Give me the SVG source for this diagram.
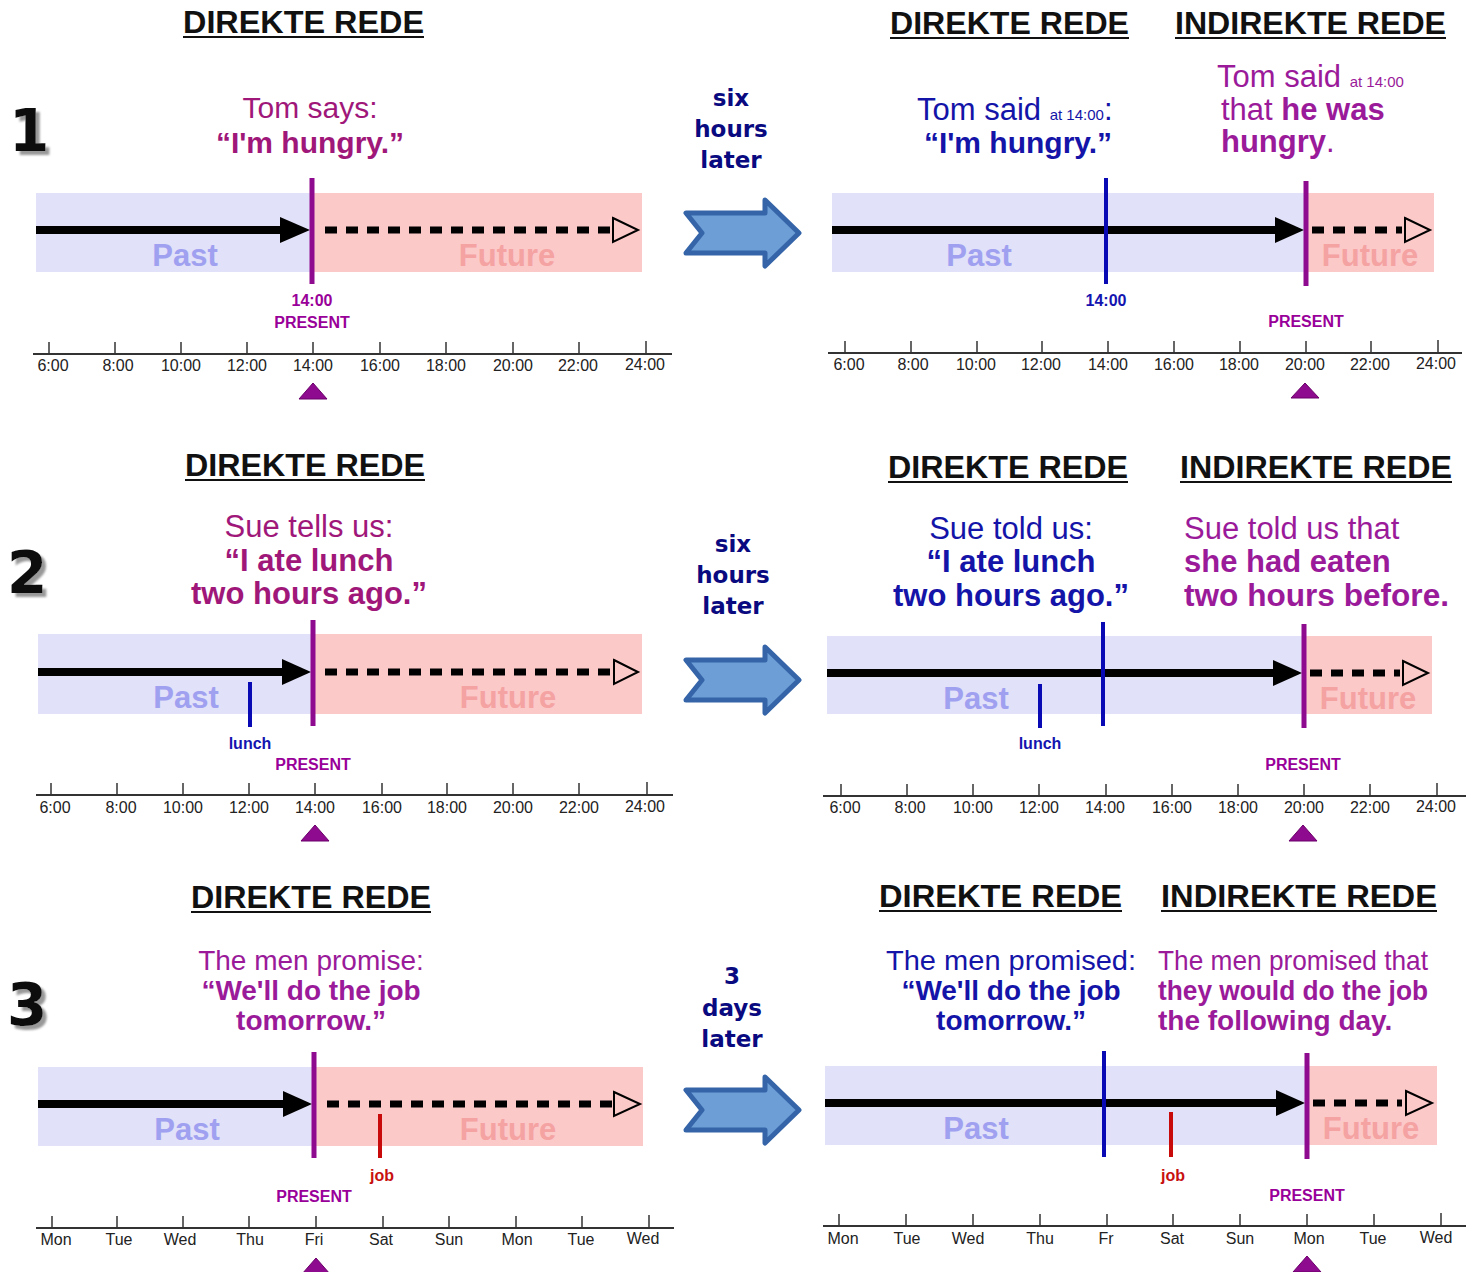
<svg xmlns="http://www.w3.org/2000/svg" width="1479" height="1272" viewBox="0 0 1479 1272">
<style>
text{font-family:"Liberation Sans",Arial,sans-serif}
.title{font-size:31px;font-weight:bold;fill:#111}
.uline{stroke:#111;stroke-width:2.2}
.num{font-family:"DejaVu Sans",sans-serif;font-size:58px;font-weight:bold;fill:#111;filter:url(#sh)}
.mid{font-family:"DejaVu Sans",sans-serif;font-size:23px;font-weight:bold;fill:#0a0a80;text-anchor:middle}
.dq{fill:#a0177a}
.bq{fill:#1414a8}
.iq{fill:#9a1a9a}
.b{font-weight:bold}
.past{fill:#e1e1f9}
.fut{fill:#fcc9c9}
.pastt{font-size:31px;font-weight:bold;fill:#a0a0f0;text-anchor:middle}
.futt{font-size:31px;font-weight:bold;fill:#f4a2a2;text-anchor:middle}
.sol{stroke:#000;stroke-width:8}
.dash{stroke:#000;stroke-width:7;stroke-dasharray:12 9}
.head{fill:#000}
.open{fill:none;stroke:#000;stroke-width:2}
.pres{stroke:#8e0a8e;stroke-width:5}
.blue{stroke:#0a0ab4;stroke-width:4}
.red{stroke:#c80a0a;stroke-width:4}
.plab{font-size:16px;font-weight:bold;fill:#990099;text-anchor:middle}
.blab{font-size:16px;font-weight:bold;fill:#1414b0;text-anchor:middle}
.rlab{font-size:16px;font-weight:bold;fill:#c81010;text-anchor:middle}
.axis{stroke:#333;stroke-width:2}
.tick{stroke:#333;stroke-width:1.5}
.tl{font-size:16px;fill:#222;text-anchor:middle}
.tri{fill:#8e0a8e;stroke:#6a006a;stroke-width:1}
.barrow{fill:#6d9ed6;stroke:#3565a8;stroke-width:5;stroke-linejoin:round}
</style>
<defs>
<filter id="sh" x="-20%" y="-20%" width="160%" height="160%">
<feDropShadow dx="4" dy="4" stdDeviation="1" flood-color="#999" flood-opacity="1"/>
</filter>
<path id="bigarrow" class="barrow" d="M0,15 L79,15 L79,2 L113,35 L79,68 L79,55 L0,55 L16,35 Z"/>
</defs>

<!-- ===== Row 1 left ===== -->
<g id="p1l">
<text class="title" x="183" y="33" textLength="241" lengthAdjust="spacingAndGlyphs">DIREKTE REDE</text>
<line class="uline" x1="183" y1="37" x2="424" y2="37"/>
<text class="num" x="9" y="151">1</text>
<text class="dq" x="310" y="118" font-size="30" text-anchor="middle">Tom says:</text>
<text class="dq b" x="310" y="153" font-size="30" text-anchor="middle">“I'm hungry.”</text>
<rect class="past" x="36" y="193" width="276" height="79"/>
<rect class="fut" x="312" y="193" width="330" height="79"/>
<text class="pastt" x="185" y="266">Past</text>
<text class="futt" x="507" y="266">Future</text>
<line class="sol" x1="36" y1="230" x2="282" y2="230"/>
<polygon class="head" points="280,217 310,230 280,243"/>
<line class="dash" x1="325" y1="230" x2="610" y2="230"/>
<polygon class="open" points="613,218 638,230 613,242"/>
<line class="pres" x1="312" y1="178" x2="312" y2="284"/>
<text class="plab" x="312" y="306">14:00</text>
<text class="plab" x="312" y="328">PRESENT</text>
<line class="axis" x1="33" y1="354" x2="672" y2="354"/>
<g class="tick">
<line x1="49" y1="342" x2="49" y2="354"/><line x1="115" y1="342" x2="115" y2="354"/><line x1="181" y1="342" x2="181" y2="354"/><line x1="247" y1="342" x2="247" y2="354"/><line x1="313" y1="342" x2="313" y2="354"/><line x1="380" y1="342" x2="380" y2="354"/><line x1="446" y1="342" x2="446" y2="354"/><line x1="513" y1="342" x2="513" y2="354"/><line x1="579" y1="342" x2="579" y2="354"/><line x1="646" y1="341" x2="646" y2="354"/>
</g>
<text class="tl" x="53" y="371">6:00</text><text class="tl" x="118" y="371">8:00</text><text class="tl" x="181" y="371">10:00</text><text class="tl" x="247" y="371">12:00</text><text class="tl" x="313" y="371">14:00</text><text class="tl" x="380" y="371">16:00</text><text class="tl" x="446" y="371">18:00</text><text class="tl" x="513" y="371">20:00</text><text class="tl" x="578" y="371">22:00</text><text class="tl" x="645" y="370">24:00</text>
<polygon class="tri" points="313,383 327,399 299,399"/>
</g>

<!-- ===== Middle arrow 1 ===== -->
<g id="m1">
<text class="mid" x="731" y="106">six</text>
<text class="mid" x="731" y="137">hours</text>
<text class="mid" x="731" y="168">later</text>
<use href="#bigarrow" x="686" y="198"/>
</g>

<!-- ===== Row 1 right ===== -->
<g id="p1r">
<text class="title" x="890" y="34" textLength="239" lengthAdjust="spacingAndGlyphs">DIREKTE REDE</text>
<line class="uline" x1="890" y1="38" x2="1129" y2="38"/>
<text class="title" x="1175" y="34" textLength="271" lengthAdjust="spacingAndGlyphs">INDIREKTE REDE</text>
<line class="uline" x1="1175" y1="38" x2="1446" y2="38"/>
<text class="bq" x="917" y="120" font-size="31">Tom said <tspan font-size="15">at 14:00</tspan>:</text>
<text class="bq b" x="1018" y="153" font-size="30" text-anchor="middle">“I'm hungry.”</text>
<text class="iq" x="1217" y="87" font-size="31">Tom said <tspan font-size="15">at 14:00</tspan></text>
<text class="iq" x="1221" y="120" font-size="31">that <tspan class="b">he was</tspan></text>
<text class="iq" x="1221" y="152" font-size="31"><tspan class="b">hungry</tspan>.</text>
<rect class="past" x="832" y="193" width="474" height="79"/>
<rect class="fut" x="1306" y="193" width="128" height="79"/>
<text class="pastt" x="979" y="266">Past</text>
<text class="futt" x="1370" y="266">Future</text>
<line class="sol" x1="832" y1="230" x2="1277" y2="230"/>
<polygon class="head" points="1275,217 1304,230 1275,243"/>
<line class="dash" x1="1312" y1="230" x2="1402" y2="230"/>
<polygon class="open" points="1405,218 1430,230 1405,242"/>
<line class="blue" x1="1106" y1="178" x2="1106" y2="284"/>
<line class="pres" x1="1306" y1="181" x2="1306" y2="286"/>
<text class="blab" x="1106" y="306">14:00</text>
<text class="plab" x="1306" y="327">PRESENT</text>
<line class="axis" x1="828" y1="353" x2="1462" y2="353"/>
<g class="tick">
<line x1="845" y1="341" x2="845" y2="353"/><line x1="911" y1="341" x2="911" y2="353"/><line x1="977" y1="341" x2="977" y2="353"/><line x1="1042" y1="341" x2="1042" y2="353"/><line x1="1108" y1="341" x2="1108" y2="353"/><line x1="1174" y1="341" x2="1174" y2="353"/><line x1="1240" y1="341" x2="1240" y2="353"/><line x1="1306" y1="341" x2="1306" y2="353"/><line x1="1371" y1="341" x2="1371" y2="353"/><line x1="1438" y1="340" x2="1438" y2="353"/>
</g>
<text class="tl" x="849" y="370">6:00</text><text class="tl" x="913" y="370">8:00</text><text class="tl" x="976" y="370">10:00</text><text class="tl" x="1041" y="370">12:00</text><text class="tl" x="1108" y="370">14:00</text><text class="tl" x="1174" y="370">16:00</text><text class="tl" x="1239" y="370">18:00</text><text class="tl" x="1305" y="370">20:00</text><text class="tl" x="1370" y="370">22:00</text><text class="tl" x="1436" y="369">24:00</text>
<polygon class="tri" points="1305,383 1319,398 1291,398"/>
</g>

<!-- ===== Row 2 left ===== -->
<g id="p2l">
<text class="title" x="185" y="476" textLength="240" lengthAdjust="spacingAndGlyphs">DIREKTE REDE</text>
<line class="uline" x1="185" y1="480" x2="425" y2="480"/>
<text class="num" x="7" y="593">2</text>
<text class="dq" x="309" y="537" font-size="31" text-anchor="middle">Sue tells us:</text>
<text class="dq b" x="309" y="571" font-size="31" text-anchor="middle">“I ate lunch</text>
<text class="dq b" x="309" y="604" font-size="31" text-anchor="middle">two hours ago.”</text>
<rect class="past" x="38" y="634" width="275" height="80"/>
<rect class="fut" x="313" y="634" width="329" height="80"/>
<text class="pastt" x="186" y="708">Past</text>
<text class="futt" x="508" y="708">Future</text>
<line class="sol" x1="38" y1="672" x2="284" y2="672"/>
<polygon class="head" points="282,659 311,672 282,685"/>
<line class="dash" x1="325" y1="672" x2="612" y2="672"/>
<polygon class="open" points="614,660 638,672 614,684"/>
<line class="blue" x1="250" y1="682" x2="250" y2="727"/>
<line class="pres" x1="313" y1="620" x2="313" y2="726"/>
<text class="blab" x="250" y="749">lunch</text>
<text class="plab" x="313" y="770">PRESENT</text>
<line class="axis" x1="36" y1="795" x2="673" y2="795"/>
<g class="tick">
<line x1="51" y1="783" x2="51" y2="795"/><line x1="117" y1="783" x2="117" y2="795"/><line x1="183" y1="783" x2="183" y2="795"/><line x1="249" y1="783" x2="249" y2="795"/><line x1="315" y1="783" x2="315" y2="795"/><line x1="382" y1="783" x2="382" y2="795"/><line x1="447" y1="783" x2="447" y2="795"/><line x1="513" y1="783" x2="513" y2="795"/><line x1="579" y1="783" x2="579" y2="795"/><line x1="647" y1="782" x2="647" y2="795"/>
</g>
<text class="tl" x="55" y="813">6:00</text><text class="tl" x="121" y="813">8:00</text><text class="tl" x="183" y="813">10:00</text><text class="tl" x="249" y="813">12:00</text><text class="tl" x="315" y="813">14:00</text><text class="tl" x="382" y="813">16:00</text><text class="tl" x="447" y="813">18:00</text><text class="tl" x="513" y="813">20:00</text><text class="tl" x="579" y="813">22:00</text><text class="tl" x="645" y="812">24:00</text>
<polygon class="tri" points="315,825 329,841 301,841"/>
</g>

<!-- ===== Middle arrow 2 ===== -->
<g id="m2">
<text class="mid" x="733" y="552">six</text>
<text class="mid" x="733" y="583">hours</text>
<text class="mid" x="733" y="614">later</text>
<use href="#bigarrow" x="686" y="645"/>
</g>

<!-- ===== Row 2 right ===== -->
<g id="p2r">
<text class="title" x="888" y="478" textLength="240" lengthAdjust="spacingAndGlyphs">DIREKTE REDE</text>
<line class="uline" x1="888" y1="482" x2="1128" y2="482"/>
<text class="title" x="1180" y="478" textLength="272" lengthAdjust="spacingAndGlyphs">INDIREKTE REDE</text>
<line class="uline" x1="1180" y1="482" x2="1452" y2="482"/>
<text class="bq" x="1011" y="539" font-size="31" text-anchor="middle">Sue told us:</text>
<text class="bq b" x="1011" y="572" font-size="31" text-anchor="middle">“I ate lunch</text>
<text class="bq b" x="1011" y="606" font-size="31" text-anchor="middle">two hours ago.”</text>
<text class="iq" x="1184" y="539" font-size="31">Sue told us that</text>
<text class="iq b" x="1184" y="572" font-size="31">she had eaten</text>
<text class="iq b" x="1184" y="606" font-size="31" textLength="265" lengthAdjust="spacingAndGlyphs">two hours before.</text>
<rect class="past" x="827" y="636" width="477" height="78"/>
<rect class="fut" x="1304" y="636" width="128" height="78"/>
<text class="pastt" x="976" y="709">Past</text>
<text class="futt" x="1368" y="709">Future</text>
<line class="sol" x1="827" y1="673" x2="1275" y2="673"/>
<polygon class="head" points="1273,660 1302,673 1273,686"/>
<line class="dash" x1="1310" y1="673" x2="1400" y2="673"/>
<polygon class="open" points="1403,661 1428,673 1403,685"/>
<line class="blue" x1="1040" y1="684" x2="1040" y2="728"/>
<line class="blue" x1="1103" y1="622" x2="1103" y2="726"/>
<line class="pres" x1="1304" y1="624" x2="1304" y2="728"/>
<text class="blab" x="1040" y="749">lunch</text>
<text class="plab" x="1303" y="770">PRESENT</text>
<line class="axis" x1="823" y1="796" x2="1466" y2="796"/>
<g class="tick">
<line x1="841" y1="784" x2="841" y2="796"/><line x1="907" y1="784" x2="907" y2="796"/><line x1="973" y1="784" x2="973" y2="796"/><line x1="1039" y1="784" x2="1039" y2="796"/><line x1="1106" y1="784" x2="1106" y2="796"/><line x1="1172" y1="784" x2="1172" y2="796"/><line x1="1238" y1="784" x2="1238" y2="796"/><line x1="1304" y1="784" x2="1304" y2="796"/><line x1="1370" y1="784" x2="1370" y2="796"/><line x1="1437" y1="783" x2="1437" y2="796"/>
</g>
<text class="tl" x="845" y="813">6:00</text><text class="tl" x="910" y="813">8:00</text><text class="tl" x="973" y="813">10:00</text><text class="tl" x="1039" y="813">12:00</text><text class="tl" x="1105" y="813">14:00</text><text class="tl" x="1172" y="813">16:00</text><text class="tl" x="1238" y="813">18:00</text><text class="tl" x="1304" y="813">20:00</text><text class="tl" x="1370" y="813">22:00</text><text class="tl" x="1436" y="812">24:00</text>
<polygon class="tri" points="1303,825 1317,841 1289,841"/>
</g>

<!-- ===== Row 3 left ===== -->
<g id="p3l">
<text class="title" x="191" y="908" textLength="240" lengthAdjust="spacingAndGlyphs">DIREKTE REDE</text>
<line class="uline" x1="191" y1="912" x2="431" y2="912"/>
<text class="num" x="7" y="1025">3</text>
<text class="iq" x="311" y="970" font-size="28" text-anchor="middle">The men promise:</text>
<text class="iq b" x="311" y="1000" font-size="28" text-anchor="middle">“We'll do the job</text>
<text class="iq b" x="311" y="1030" font-size="28" text-anchor="middle">tomorrow.”</text>
<rect class="past" x="38" y="1067" width="276" height="79"/>
<rect class="fut" x="314" y="1067" width="329" height="79"/>
<text class="pastt" x="187" y="1140">Past</text>
<text class="futt" x="508" y="1140">Future</text>
<line class="sol" x1="38" y1="1104" x2="285" y2="1104"/>
<polygon class="head" points="283,1091 312,1104 283,1117"/>
<line class="dash" x1="327" y1="1104" x2="612" y2="1104"/>
<polygon class="open" points="614,1092 640,1104 614,1116"/>
<line class="red" x1="380" y1="1114" x2="380" y2="1158"/>
<line class="pres" x1="314" y1="1052" x2="314" y2="1158"/>
<text class="rlab" x="382" y="1181">job</text>
<text class="plab" x="314" y="1202">PRESENT</text>
<line class="axis" x1="36" y1="1228" x2="674" y2="1228"/>
<g class="tick">
<line x1="52" y1="1216" x2="52" y2="1228"/><line x1="117" y1="1216" x2="117" y2="1228"/><line x1="183" y1="1216" x2="183" y2="1228"/><line x1="249" y1="1216" x2="249" y2="1228"/><line x1="316" y1="1216" x2="316" y2="1228"/><line x1="383" y1="1216" x2="383" y2="1228"/><line x1="449" y1="1216" x2="449" y2="1228"/><line x1="516" y1="1216" x2="516" y2="1228"/><line x1="582" y1="1216" x2="582" y2="1228"/><line x1="649" y1="1215" x2="649" y2="1228"/>
</g>
<text class="tl" x="56" y="1245">Mon</text><text class="tl" x="119" y="1245">Tue</text><text class="tl" x="180" y="1245">Wed</text><text class="tl" x="250" y="1245">Thu</text><text class="tl" x="314" y="1245">Fri</text><text class="tl" x="381" y="1245">Sat</text><text class="tl" x="449" y="1245">Sun</text><text class="tl" x="517" y="1245">Mon</text><text class="tl" x="581" y="1245">Tue</text><text class="tl" x="643" y="1244">Wed</text>
<polygon class="tri" points="316,1258 330,1274 302,1274"/>
</g>

<!-- ===== Middle arrow 3 ===== -->
<g id="m3">
<text class="mid" x="732" y="984">3</text>
<text class="mid" x="732" y="1016">days</text>
<text class="mid" x="732" y="1047">later</text>
<use href="#bigarrow" x="686" y="1075"/>
</g>

<!-- ===== Row 3 right ===== -->
<g id="p3r">
<text class="title" x="879" y="907" textLength="243" lengthAdjust="spacingAndGlyphs">DIREKTE REDE</text>
<line class="uline" x1="879" y1="911" x2="1122" y2="911"/>
<text class="title" x="1161" y="907" textLength="276" lengthAdjust="spacingAndGlyphs">INDIREKTE REDE</text>
<line class="uline" x1="1161" y1="911" x2="1437" y2="911"/>
<text class="bq" x="1011" y="970" font-size="28" text-anchor="middle" textLength="250" lengthAdjust="spacingAndGlyphs">The men promised:</text>
<text class="bq b" x="1011" y="1000" font-size="28" text-anchor="middle">“We'll do the job</text>
<text class="bq b" x="1011" y="1030" font-size="28" text-anchor="middle">tomorrow.”</text>
<text class="iq" x="1158" y="970" font-size="28" textLength="270" lengthAdjust="spacingAndGlyphs">The men promised that</text>
<text class="iq b" x="1158" y="1000" font-size="28" textLength="270" lengthAdjust="spacingAndGlyphs">they would do the job</text>
<text class="iq b" x="1158" y="1030" font-size="28">the following day.</text>
<rect class="past" x="825" y="1066" width="482" height="79"/>
<rect class="fut" x="1307" y="1066" width="130" height="79"/>
<text class="pastt" x="976" y="1139">Past</text>
<text class="futt" x="1371" y="1139">Future</text>
<line class="sol" x1="825" y1="1103" x2="1278" y2="1103"/>
<polygon class="head" points="1276,1090 1305,1103 1276,1116"/>
<line class="dash" x1="1313" y1="1103" x2="1402" y2="1103"/>
<polygon class="open" points="1406,1091 1432,1103 1406,1115"/>
<line class="red" x1="1171" y1="1112" x2="1171" y2="1157"/>
<line class="blue" x1="1104" y1="1051" x2="1104" y2="1157"/>
<line class="pres" x1="1307" y1="1053" x2="1307" y2="1159"/>
<text class="rlab" x="1173" y="1181">job</text>
<text class="plab" x="1307" y="1201">PRESENT</text>
<line class="axis" x1="823" y1="1226" x2="1466" y2="1226"/>
<g class="tick">
<line x1="839" y1="1214" x2="839" y2="1226"/><line x1="906" y1="1214" x2="906" y2="1226"/><line x1="973" y1="1214" x2="973" y2="1226"/><line x1="1040" y1="1214" x2="1040" y2="1226"/><line x1="1107" y1="1214" x2="1107" y2="1226"/><line x1="1173" y1="1214" x2="1173" y2="1226"/><line x1="1240" y1="1214" x2="1240" y2="1226"/><line x1="1307" y1="1214" x2="1307" y2="1226"/><line x1="1374" y1="1214" x2="1374" y2="1226"/><line x1="1441" y1="1213" x2="1441" y2="1226"/>
</g>
<text class="tl" x="843" y="1244">Mon</text><text class="tl" x="907" y="1244">Tue</text><text class="tl" x="968" y="1244">Wed</text><text class="tl" x="1040" y="1244">Thu</text><text class="tl" x="1106" y="1244">Fr</text><text class="tl" x="1172" y="1244">Sat</text><text class="tl" x="1240" y="1244">Sun</text><text class="tl" x="1309" y="1244">Mon</text><text class="tl" x="1373" y="1244">Tue</text><text class="tl" x="1436" y="1243">Wed</text>
<polygon class="tri" points="1307,1256 1321,1272 1293,1272"/>
</g>
</svg>
